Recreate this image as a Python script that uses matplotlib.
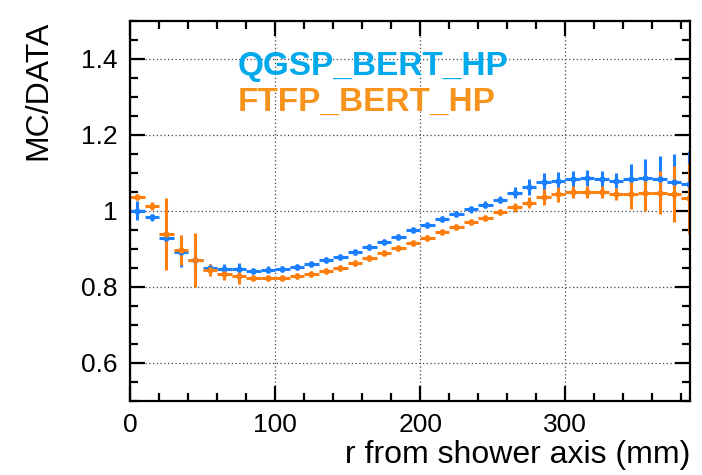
import numpy as np
import matplotlib
matplotlib.use("Agg")
from matplotlib import pyplot as plt
from matplotlib.ticker import MultipleLocator

plt.rcParams['font.family'] = ['Liberation Sans', 'DejaVu Sans']

# bin centres (10 mm bins)
r = np.arange(5, 390, 10)

qgsp = [1.000, 0.983, 0.928, 0.893, 0.870, 0.850, 0.848, 0.848, 0.843, 0.846,
        0.848, 0.852, 0.861, 0.870, 0.880, 0.893, 0.906, 0.919, 0.932, 0.950,
        0.963, 0.978, 0.991, 1.004, 1.017, 1.030, 1.048, 1.063, 1.077, 1.080,
        1.084, 1.087, 1.084, 1.080, 1.084, 1.087, 1.084, 1.076, 1.070]
qgsp_err = [0.025, 0.010, 0.010, 0.040, 0.030, 0.010, 0.012, 0.015, 0.008, 0.008,
            0.008, 0.008, 0.008, 0.008, 0.008, 0.008, 0.008, 0.008, 0.008, 0.008,
            0.008, 0.008, 0.008, 0.008, 0.010, 0.010, 0.015, 0.020, 0.022, 0.022,
            0.020, 0.020, 0.022, 0.020, 0.040, 0.050, 0.060, 0.075, 0.087]

ftfp = [1.037, 1.013, 0.939, 0.897, 0.871, 0.845, 0.833, 0.829, 0.823, 0.823,
        0.823, 0.828, 0.835, 0.842, 0.850, 0.863, 0.876, 0.890, 0.902, 0.916,
        0.928, 0.945, 0.958, 0.970, 0.981, 0.997, 1.010, 1.022, 1.037, 1.044,
        1.050, 1.050, 1.050, 1.045, 1.046, 1.048, 1.048, 1.045, 1.033]
ftfp_err = [0.008, 0.010, 0.094, 0.040, 0.071, 0.015, 0.015, 0.020, 0.008, 0.008,
            0.008, 0.008, 0.008, 0.008, 0.008, 0.008, 0.008, 0.008, 0.008, 0.008,
            0.008, 0.008, 0.008, 0.008, 0.008, 0.008, 0.012, 0.015, 0.020, 0.020,
            0.015, 0.015, 0.015, 0.015, 0.040, 0.048, 0.057, 0.074, 0.093]

blue = '#1a80ff'
orange = '#ff7f0e'

fig = plt.figure(figsize=(7.02, 4.75), dpi=100)
ax = fig.add_axes([0.1852, 0.1558, 0.7978, 0.8])

ax.errorbar(r, qgsp, xerr=5, yerr=qgsp_err, fmt='o', color=blue, ms=3.5,
            elinewidth=2.2, capsize=0)
ax.errorbar(r, ftfp, xerr=5, yerr=ftfp_err, fmt='o', color=orange, ms=3.5,
            elinewidth=2.2, capsize=0)

ax.set_xlim(0, 386)
ax.set_ylim(0.5, 1.5)
ax.xaxis.set_major_locator(MultipleLocator(100))
ax.xaxis.set_minor_locator(MultipleLocator(20))
ax.yaxis.set_major_locator(MultipleLocator(0.2))
ax.yaxis.set_minor_locator(MultipleLocator(0.05))
ax.set_yticks([0.6, 0.8, 1.0, 1.2, 1.4])
ax.set_yticklabels(['0.6', '0.8', '1', '1.2', '1.4'])

ax.tick_params(which='both', direction='in', top=True, right=True, width=1.6,
               labelsize=19)
ax.tick_params(which='major', length=11)
ax.tick_params(which='minor', length=6)
ax.tick_params(axis='x', pad=9)
ax.tick_params(axis='y', pad=9)
for s in ax.spines.values():
    s.set_linewidth(1.6)

ax.grid(True, which='major', linestyle=(0, (1, 2)), color='#444444', linewidth=0.9)

ax.set_xlabel('r from shower axis (mm)', fontsize=23, loc='right', labelpad=2)
ax.set_ylabel('MC/DATA', fontsize=23, loc='top', labelpad=20)

ax.text(0.193, 0.88, 'QGSP_BERT_HP', transform=ax.transAxes, color='#00a8ec',
        fontsize=24, fontweight='bold', va='center')
ax.text(0.193, 0.785, 'FTFP_BERT_HP', transform=ax.transAxes, color='#f7941d',
        fontsize=24, fontweight='bold', va='center')

plt.savefig('out.png', dpi=100)
